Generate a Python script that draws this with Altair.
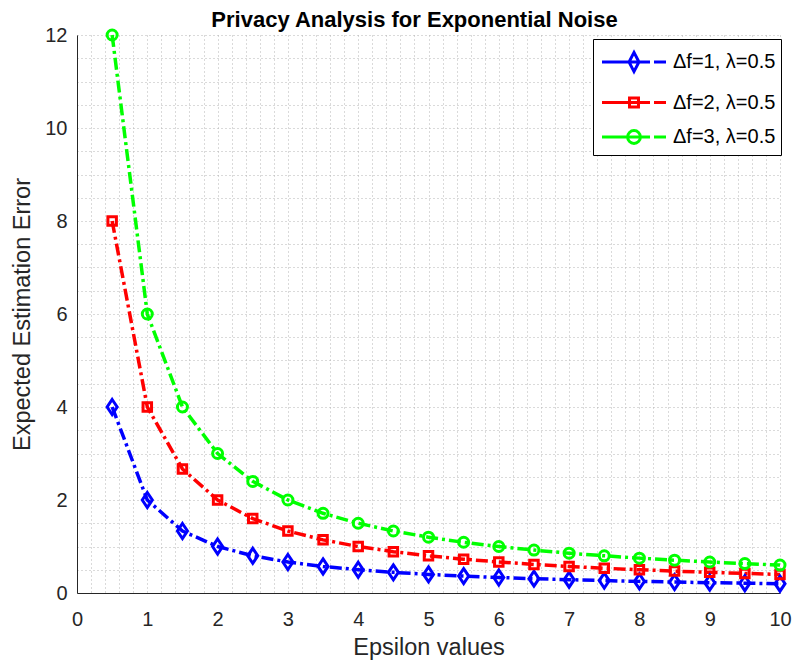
import altair as alt
import pandas as pd

# ---- data ----
epsilon = [0.5, 1.0, 1.5, 2.0, 2.5, 3.0, 3.5, 4.0, 4.5, 5.0,
           5.5, 6.0, 6.5, 7.0, 7.5, 8.0, 8.5, 9.0, 9.5, 10.0]
err_df1 = [4.0, 2.0, 1.333, 1.0, 0.8, 0.667, 0.571, 0.5, 0.444, 0.4,
           0.364, 0.333, 0.308, 0.286, 0.267, 0.25, 0.235, 0.222, 0.211, 0.2]
err_df2 = [8.0, 4.0, 2.667, 2.0, 1.6, 1.333, 1.143, 1.0, 0.889, 0.8,
           0.727, 0.667, 0.615, 0.571, 0.533, 0.5, 0.471, 0.444, 0.421, 0.4]
err_df3 = [12.0, 6.0, 4.0, 3.0, 2.4, 2.0, 1.714, 1.5, 1.333, 1.2,
           1.091, 1.0, 0.923, 0.857, 0.8, 0.75, 0.706, 0.667, 0.632, 0.6]
series_names = ["\u0394f=1, \u03bb=0.5", "\u0394f=2, \u03bb=0.5", "\u0394f=3, \u03bb=0.5"]
x_grid_values = [round(0.2 * i, 1) for i in range(51)]
y_grid_values = [0.5 * i for i in range(25)]

# ---- styles ----
colors = ["#0000ff", "#ff0000", "#00ff00"]
marker_paths = ["M0,-1L0.67,0L0,1L-0.67,0Z", "square", "circle"]
marker_sizes = [225, 72, 100]
legend_paths = [
    "M-2,0L1.0,0M1.25,0L2,0M0,-0.6L0.31,0L0,0.6L-0.31,0Z",
    "M-2,0L1.0,0M1.25,0L2,0M-0.28,-0.28L0.28,-0.28L0.28,0.28L-0.28,0.28Z",
    "M-2,0L1.0,0M1.25,0L2,0M0.4,0A0.4,0.4 0 1,1 -0.4,0A0.4,0.4 0 1,1 0.4,0Z",
]
FONT = "Liberation Sans"

rows = []
for name, errs in zip(series_names, [err_df1, err_df2, err_df3]):
    for e, v in zip(epsilon, errs):
        rows.append({"eps": e, "err": v, "series": name})
df = pd.DataFrame(rows)

x_enc = alt.X("eps:Q", scale=alt.Scale(domain=[0, 10], nice=False),
              axis=alt.Axis(values=x_grid_values, title="Epsilon values",
                            labelExpr="abs(datum.value - round(datum.value)) < 0.001 ? format(round(datum.value), 'd') : ''",
                            labelOverlap=False, labelFlush=False, labelBound=False,
                            labelPadding=16, titlePadding=6))
y_enc = alt.Y("err:Q", scale=alt.Scale(domain=[0, 12], nice=False),
              axis=alt.Axis(values=y_grid_values, title="Expected Estimation Error",
                            labelExpr="datum.value % 2 === 0 ? format(datum.value, 'd') : ''",
                            labelOverlap=False, labelPadding=10, titlePadding=10))

layers = []
for name, c in zip(series_names, colors):
    layers.append(
        alt.Chart(df).transform_filter(alt.datum.series == name)
        .mark_line(color=c, strokeWidth=3.5, strokeDash=[12, 4, 3, 4])
        .encode(x=x_enc, y=y_enc)
    )
for name, c, shp, sz in zip(series_names, colors, marker_paths, marker_sizes):
    layers.append(
        alt.Chart(df).transform_filter(alt.datum.series == name)
        .mark_point(color=c, shape=shp, size=sz, filled=False, strokeWidth=3, opacity=1)
        .encode(x=x_enc, y=y_enc)
    )

legend_props = dict(title=None, orient="none", legendX=516, legendY=4,
                    strokeColor="#000000", fillColor="#ffffff", padding=5.5,
                    labelFont=FONT, labelFontSize=20, labelColor="#000000",
                    symbolSize=1024, symbolStrokeWidth=3, labelOffset=21.5,
                    rowPadding=6.5, symbolOffset=18)
legend_layer = (
    alt.Chart(df).transform_filter("datum.eps < 0")
    .mark_point(filled=False, strokeWidth=3, opacity=1)
    .encode(
        x=x_enc, y=y_enc,
        color=alt.Color("series:N", scale=alt.Scale(domain=series_names, range=colors),
                        legend=alt.Legend(**legend_props)),
        shape=alt.Shape("series:N", scale=alt.Scale(domain=series_names, range=legend_paths),
                        legend=alt.Legend(**legend_props)),
    )
)
layers.append(legend_layer)

chart = (
    alt.layer(*layers)
    .properties(
        width=703, height=558,
        title=alt.TitleParams("Privacy Analysis for Exponential Noise", font=FONT,
                              fontSize=22, fontWeight="bold", color="#000000", offset=-8, dx=-14),
        autosize=alt.AutoSizeParams(type="none"),
        padding={"left": 69, "top": 27, "right": 14, "bottom": 68},
    )
    .configure_view(stroke=None)
    .configure_axis(
        labelFont=FONT, labelFontSize=20, labelColor="#262626",
        titleFont=FONT, titleFontSize=23.5, titleFontWeight="normal", titleColor="#262626",
        domainColor="#262626", domainWidth=1, ticks=False,
        grid=True, gridColor="#b4b4b4", gridDash=[1, 3], gridWidth=1,
    )
)

chart.save("out.html", embed_options={"renderer": "svg", "actions": False})
